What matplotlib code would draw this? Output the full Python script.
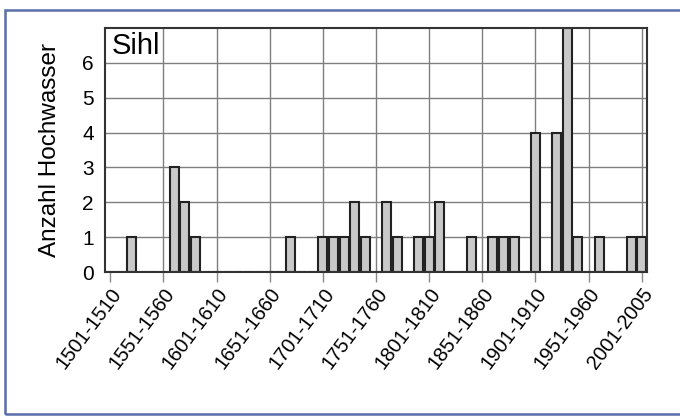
import matplotlib
matplotlib.use("Agg")
import matplotlib.pyplot as plt
from matplotlib.patches import Rectangle

plt.rcParams['font.family'] = ['Liberation Sans', 'DejaVu Sans']

# Jahrzehnte 1501-1510 ... 2001-2005
decades = [f"{1501 + 10 * i}-{1510 + 10 * i}" for i in range(50)] + ["2001-2005"]

# Anzahl Hochwasser pro Jahrzehnt (Sihl)
counts = [0, 0, 1, 0, 0, 0, 3, 2, 1, 0,
          0, 0, 0, 0, 0, 0, 0, 1, 0, 0,
          1, 1, 1, 2, 1, 0, 2, 1, 0, 1,
          1, 2, 0, 0, 1, 0, 1, 1, 1, 0,
          4, 0, 4, 7, 1, 0, 1, 0, 0, 1,
          1]

label_step = 5

fig = plt.figure(figsize=(6.8, 4.16), dpi=100)
ax = fig.add_axes([105 / 680, 1 - 272 / 416, 542 / 680, 244 / 416])

x = list(range(len(decades)))
ax.bar(x, counts, width=0.85, color='#c9c9c9', edgecolor='#222222',
       linewidth=1.5, zorder=3)

ax.set_xlim(-0.5, len(decades) - 0.5)
ax.set_ylim(0, 7)

# horizontale Gitterlinien
for yv in range(1, 7):
    ax.axhline(yv, color='#7f7f7f', linewidth=1.0, zorder=1)
# vertikale Gitterlinien (alle 50 Jahre)
for xv in x[label_step::label_step]:
    ax.axvline(xv, color='#7f7f7f', linewidth=1.0, zorder=1)

ax.set_xticks(x[::label_step])
ax.set_xticklabels(decades[::label_step], rotation=53, ha='right',
                   rotation_mode='anchor', fontsize=14.5)
ax.tick_params(axis='x', length=7, color='#8a8a8a', width=1.0, pad=2)

ax.set_yticks(range(8))
ax.set_yticklabels([str(v) for v in range(7)] + [''], fontsize=15)
ax.tick_params(axis='y', length=0, pad=8)

ax.set_ylabel("Anzahl Hochwasser", fontsize=17.5, labelpad=15)

for s in ax.spines.values():
    s.set_color('#333333')
    s.set_linewidth(1.5)
    s.set_zorder(4)

ax.text(0.012, 0.985, "Sihl", transform=ax.transAxes, fontsize=21,
        va='top', ha='left', zorder=5)

# Rahmen um die Grafik
fig.patches.append(Rectangle((5 / 680, 2 / 416), 1.0, 404 / 416,
                             transform=fig.transFigure, fill=False,
                             edgecolor='#5a6dab', linewidth=1.8))

fig.savefig('out.png', dpi=100, facecolor='white')
